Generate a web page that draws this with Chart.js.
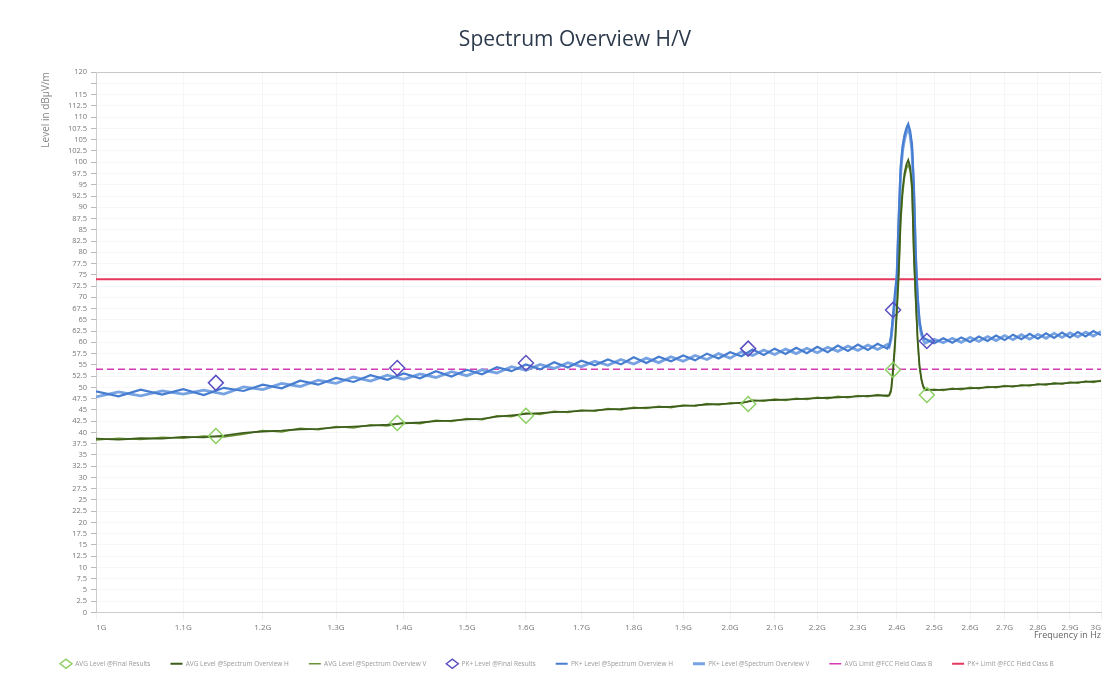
<!DOCTYPE html>
<html>
<head>
<meta charset="utf-8">
<script src="https://cdn.jsdelivr.net/npm/chart.js@4.4.1/dist/chart.umd.min.js"></script>
<style>
  body { margin: 0; background: #fff; }
  canvas { display: block; }
</style>
</head>
<body>
<canvas id="spectrumChart" width="1110" height="679"></canvas>
<script>
// frequencies in GHz for the sweep traces
const traceFreq = [
    1.000, 1.025, 1.050, 1.075, 1.100, 1.125, 1.150, 1.175, 1.200, 1.225,
    1.250, 1.275, 1.300, 1.325, 1.350, 1.375, 1.400, 1.425, 1.450, 1.475,
    1.500, 1.525, 1.550, 1.575, 1.600, 1.625, 1.650, 1.675, 1.700, 1.725,
    1.750, 1.775, 1.800, 1.825, 1.850, 1.875, 1.900, 1.925, 1.950, 1.975,
    2.000, 2.025, 2.050, 2.075, 2.100, 2.125, 2.150, 2.175, 2.200, 2.225,
    2.250, 2.275, 2.300, 2.325, 2.350, 2.375,
    2.380, 2.385, 2.390, 2.395, 2.400, 2.405, 2.410, 2.415, 2.420, 2.425,
    2.430, 2.435, 2.440, 2.445, 2.450, 2.455, 2.460, 2.465, 2.470,
    2.475, 2.500, 2.525, 2.550, 2.575, 2.600, 2.625, 2.650, 2.675, 2.700,
    2.725, 2.750, 2.775, 2.800, 2.825, 2.850, 2.875, 2.900, 2.925, 2.950,
    2.975, 3.000
];

const pkLevelH = [
    49.1, 48.0, 49.5, 48.4, 49.6, 48.3, 49.9, 49.2, 50.6, 49.8,
    51.5, 50.6, 52.1, 51.2, 52.7, 51.7, 53.1, 52.0, 53.6, 52.4,
    53.9, 52.9, 54.5, 53.6, 55.1, 54.0, 55.6, 54.4, 55.9, 54.9,
    56.2, 55.1, 56.7, 55.4, 56.8, 55.8, 57.1, 56.0, 57.5, 56.4,
    57.8, 56.9, 58.4, 57.2, 58.6, 57.4, 58.8, 57.6, 59.0, 57.8,
    59.3, 58.1, 59.5, 58.3, 59.7, 58.6,
    59.3, 61.5, 66.0, 71.0, 75.0, 88.0, 99.0, 103.5, 106.0, 107.5,
    108.5, 107.0, 104.0, 95.0, 80.0, 70.5, 65.0, 62.5, 61.0,
    60.8, 59.8, 60.9, 59.9, 61.1, 60.1, 61.3, 60.3, 61.5, 60.5,
    61.7, 60.7, 61.9, 60.8, 62.0, 61.0, 62.2, 61.1, 62.3, 61.3,
    62.5, 61.6
];

const pkLevelV = [
    47.9, 49.0, 48.1, 49.2, 48.5, 49.4, 48.5, 50.1, 49.5, 50.9,
    50.2, 51.6, 50.9, 52.3, 51.4, 52.7, 51.8, 53.0, 52.2, 53.5,
    52.6, 53.9, 53.2, 54.6, 53.8, 55.1, 54.2, 55.5, 54.6, 55.8,
    54.9, 56.2, 55.2, 56.5, 55.5, 56.8, 55.8, 57.1, 56.2, 57.5,
    56.5, 57.9, 57.1, 58.3, 57.3, 58.5, 57.5, 58.7, 57.7, 58.9,
    58.0, 59.2, 58.2, 59.4, 58.4, 59.5,
    59.0, 60.8, 65.0, 69.5, 74.0, 86.0, 97.5, 102.5, 105.0, 106.5,
    107.5, 106.0, 102.5, 92.0, 77.0, 69.0, 64.0, 61.8, 60.6,
    59.8, 60.7, 59.9, 60.9, 60.0, 61.1, 60.2, 61.3, 60.4, 61.5,
    60.6, 61.7, 60.7, 61.8, 60.9, 62.0, 61.1, 62.1, 61.2, 62.3,
    61.4, 62.4
];

const avgLevelH = [
    38.6, 38.4, 38.7, 38.6, 39.0, 38.9, 39.3, 39.9, 40.2, 40.4,
    40.7, 40.8, 41.1, 41.3, 41.5, 41.7, 42.0, 42.2, 42.5, 42.6,
    42.9, 43.0, 43.5, 43.8, 44.1, 44.3, 44.5, 44.6, 44.8, 44.9,
    45.1, 45.2, 45.4, 45.5, 45.6, 45.7, 45.9, 46.0, 46.2, 46.3,
    46.4, 46.6, 47.0, 47.1, 47.2, 47.3, 47.4, 47.5, 47.6, 47.7,
    47.8, 47.9, 48.0, 48.1, 48.2, 48.2,
    48.3, 49.5, 54.0, 60.0, 68.0, 76.0, 88.0, 94.0, 97.5, 99.5,
    100.5, 99.0, 95.0, 80.0, 70.0, 61.0, 55.0, 52.0, 50.3,
    49.6, 49.4, 49.5, 49.6, 49.7, 49.8, 49.9, 50.0, 50.1, 50.2,
    50.3, 50.4, 50.5, 50.6, 50.7, 50.8, 50.9, 51.0, 51.1, 51.2,
    51.3, 51.4
];

const avgLevelV = [
    38.3, 38.7, 38.4, 38.9, 38.7, 39.2, 39.0, 39.6, 40.4, 40.1,
    40.9, 40.6, 41.3, 41.0, 41.7, 41.4, 42.2, 41.9, 42.7, 42.4,
    43.1, 42.8, 43.7, 43.5, 44.3, 44.0, 44.7, 44.4, 45.0, 44.7,
    45.3, 45.0, 45.6, 45.3, 45.8, 45.5, 46.1, 45.8, 46.4, 46.1,
    46.6, 46.4, 47.2, 46.9, 47.4, 47.1, 47.6, 47.3, 47.8, 47.5,
    48.0, 47.7, 48.2, 47.9, 48.4, 48.0,
    48.1, 49.0, 53.0, 58.5, 66.0, 74.0, 86.0, 92.5, 96.5, 98.5,
    99.5, 98.0, 93.5, 78.0, 68.5, 60.0, 54.5, 51.6, 50.0,
    49.3, 49.6, 49.3, 49.8, 49.5, 50.0, 49.7, 50.2, 49.9, 50.4,
    50.1, 50.6, 50.3, 50.8, 50.5, 51.0, 50.7, 51.2, 50.9, 51.4,
    51.1, 51.6
];

// final measurement points
const finalFreq = [1.14, 1.39, 1.60, 2.04, 2.39, 2.48];
const pkFinal = [51.0, 54.3, 55.4, 58.6, 67.2, 60.3];
const avgFinal = [39.2, 42.1, 43.7, 46.3, 53.9, 48.3];

// FCC class B limits
const limitFreq = [1.0, 3.0];
const pkLimit = [74, 74];
const avgLimit = [54, 54];

const xTicks = [1.0, 1.1, 1.2, 1.3, 1.4, 1.5, 1.6, 1.7, 1.8, 1.9, 2.0,
    2.1, 2.2, 2.3, 2.4, 2.5, 2.6, 2.7, 2.8, 2.9, 3.0];
const xTickLabels = ["1G", "1.1G", "1.2G", "1.3G", "1.4G", "1.5G", "1.6G", "1.7G", "1.8G", "1.9G", "2.0G",
    "2.1G", "2.2G", "2.3G", "2.4G", "2.5G", "2.6G", "2.7G", "2.8G", "2.9G", "3G"];

function toPoints(xs, ys) {
    return xs.map(function(x, i) { return { x: x, y: ys[i] }; });
}

document.addEventListener("DOMContentLoaded", function() {
    let ctx = document.getElementById("spectrumChart").getContext("2d");
    let chart = new Chart(ctx, {
        type: "line",
        data: {
            datasets: [{
                label: "AVG Level @Final Results",
                data: toPoints(finalFreq, avgFinal),
                showLine: false,
                pointStyle: "rectRot",
                pointRadius: 7.5,
                pointBorderWidth: 1.5,
                borderColor: "#8ccf63",
                backgroundColor: "rgba(0,0,0,0)"
            }, {
                label: "AVG Level @Spectrum Overview H",
                data: toPoints(traceFreq, avgLevelH),
                borderColor: "#3e5e1c",
                backgroundColor: "#3e5e1c",
                borderWidth: 1.8,
                pointRadius: 0,
                pointStyle: "line"
            }, {
                label: "AVG Level @Spectrum Overview V",
                data: toPoints(traceFreq, avgLevelV),
                borderColor: "#6b9236",
                backgroundColor: "#6b9236",
                borderWidth: 1.5,
                pointRadius: 0,
                pointStyle: "line"
            }, {
                label: "PK+ Level @Final Results",
                data: toPoints(finalFreq, pkFinal),
                showLine: false,
                pointStyle: "rectRot",
                pointRadius: 7.5,
                pointBorderWidth: 1.5,
                borderColor: "#5a4fc2",
                backgroundColor: "rgba(0,0,0,0)"
            }, {
                label: "PK+ Level @Spectrum Overview H",
                data: toPoints(traceFreq, pkLevelH),
                borderColor: "#477dd0",
                backgroundColor: "#477dd0",
                borderWidth: 2.2,
                pointRadius: 0,
                pointStyle: "line"
            }, {
                label: "PK+ Level @Spectrum Overview V",
                data: toPoints(traceFreq, pkLevelV),
                borderColor: "#78a3e2",
                backgroundColor: "#78a3e2",
                borderWidth: 2.8,
                pointRadius: 0,
                pointStyle: "line"
            }, {
                label: "AVG Limit @FCC Field Class B",
                data: toPoints(limitFreq, avgLimit),
                borderColor: "#d43ab6",
                backgroundColor: "#d43ab6",
                borderWidth: 1.5,
                borderDash: [7, 4],
                pointRadius: 0,
                pointStyle: "line"
            }, {
                label: "PK+ Limit @FCC Field Class B",
                data: toPoints(limitFreq, pkLimit),
                borderColor: "#e6375e",
                backgroundColor: "#e6375e",
                borderWidth: 2,
                pointRadius: 0,
                pointStyle: "line"
            }]
        },
        options: {
            responsive: false,
            maintainAspectRatio: false,
            animation: false,
            layout: { padding: { left: 40, right: 0, top: 0, bottom: 2 } },
            elements: { line: { tension: 0 } },
            plugins: {
                title: {
                    display: true,
                    text: "Spectrum Overview H/V",
                    color: "#2c3a4c",
                    font: { family: "Open Sans", size: 21, weight: "normal" },
                    padding: { top: 27, bottom: 20 }
                },
                legend: {
                    position: "bottom",
                    align: "start",
                    labels: {
                        usePointStyle: true,
                        pointStyleWidth: 12,
                        boxWidth: 8,
                        boxHeight: 7,
                        padding: 20,
                        color: "#999",
                        font: { family: "Open Sans", size: 6.5 }
                    }
                },
                tooltip: { enabled: false }
            },
            scales: {
                x: {
                    type: "logarithmic",
                    min: 1,
                    max: 3,
                    afterBuildTicks: function(axis) {
                        axis.ticks = xTicks.map(function(v) { return { value: v }; });
                    },
                    afterFit: function(axis) { axis.height = 28; },
                    ticks: {
                        autoSkip: false,
                        maxRotation: 0,
                        align: "inner",
                        color: "#777",
                        font: { family: "Open Sans", size: 8 },
                        padding: 3,
                        callback: function(value, index) { return xTickLabels[index]; }
                    },
                    grid: {
                        color: "rgba(0,0,0,0.035)",
                        tickLength: 7,
                        tickColor: "rgba(0,0,0,0.06)"
                    },
                    border: { color: "#ccc" },
                    title: {
                        display: true,
                        text: "Frequency in Hz",
                        align: "end",
                        color: "#666",
                        font: { family: "Open Sans", size: 9 },
                        padding: { top: 0, bottom: 0 }
                    }
                },
                y: {
                    min: 0,
                    max: 120,
                    afterFit: function(axis) { axis.width = 56; },
                    ticks: {
                        stepSize: 2.5,
                        autoSkip: false,
                        color: "#777",
                        font: { family: "Open Sans", size: 7.5 },
                        padding: 4,
                        callback: function(value) {
                            if (value === 117.5) return "";
                            return String(value);
                        }
                    },
                    grid: {
                        color: function(c) {
                            return c.tick && c.tick.value === 120 ? "#c8c8c8" : "rgba(0,0,0,0.03)";
                        },
                        tickLength: 5,
                        tickColor: "#bbb"
                    },
                    border: { color: "#ccc" },
                    title: {
                        display: true,
                        text: "Level in dBµV/m",
                        align: "end",
                        color: "#888",
                        font: { family: "Open Sans", size: 10 },
                        padding: 0
                    }
                }
            }
        }
    });
});
</script>
</body>
</html>
